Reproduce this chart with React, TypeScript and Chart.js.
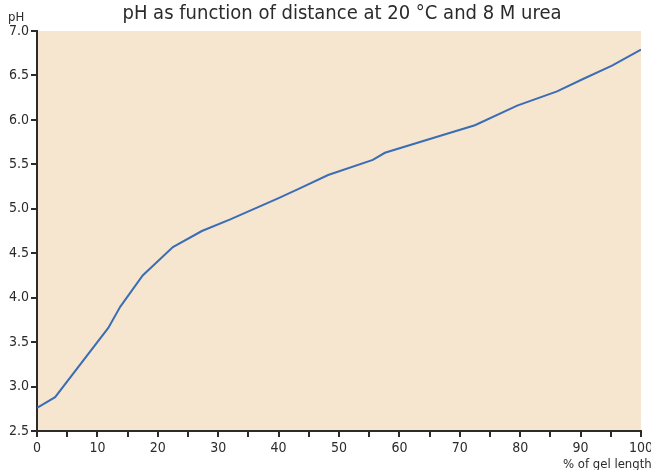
import React, { useEffect, useRef } from "react";
import { Chart, registerables } from "chart.js";

Chart.register(...registerables);

// % of gel length vs measured pH
const distance = [0, 3, 11.8, 13.8, 17.5, 22.5, 27.3, 32, 40, 43.5, 48.2, 55.6, 57.6, 67.2, 72.5, 79.5, 86.1, 90.4, 95.2, 100];
const pH = [2.76, 2.88, 3.66, 3.9, 4.25, 4.57, 4.75, 4.88, 5.12, 5.23, 5.38, 5.55, 5.63, 5.83, 5.94, 6.16, 6.32, 6.46, 6.61, 6.79];

const titleText = "pH as function of distance at 20 °C and 8 M urea";
const yAxisLabel = "pH";
const xAxisLabel = "% of gel length";

const FONT = "'Liberation Sans Narrow', 'DejaVu Sans Condensed', 'Liberation Sans', sans-serif";
const INK = "#2b2b2b";

const decorations = {
  id: "decorations",
  beforeDraw(chart: any) {
    const { ctx, chartArea } = chart;
    ctx.save();
    ctx.fillStyle = "#f6e6cf";
    ctx.fillRect(chartArea.left, chartArea.top, chartArea.right - chartArea.left, chartArea.bottom - chartArea.top);
    ctx.restore();
  },
  afterDraw(chart: any) {
    const { ctx, chartArea } = chart;
    ctx.save();
    ctx.fillStyle = INK;
    ctx.textBaseline = "alphabetic";
    ctx.font = `20px ${FONT}`;
    ctx.textAlign = "center";
    ctx.fillText(titleText, 342, 19);
    ctx.font = `13px ${FONT}`;
    ctx.textAlign = "left";
    ctx.fillText(yAxisLabel, 8, 21);
    ctx.textAlign = "left";
    ctx.fillText(xAxisLabel, 563, 468);
    ctx.restore();
  },
};

export default function App() {
  const ref = useRef<HTMLCanvasElement>(null);

  useEffect(() => {
    document.body.style.margin = "0";
    const chart = new Chart(ref.current!, {
      type: "line",
      data: {
        datasets: [
          {
            data: distance.map((d, i) => ({ x: d, y: pH[i] })),
            borderColor: "#3b6db5",
            borderWidth: 2,
            pointRadius: 0,
            tension: 0,
            fill: false,
          },
        ],
      },
      options: {
        animation: false,
        responsive: false,
        layout: { padding: { top: 31, right: 10, left: 0, bottom: 0 } },
        plugins: { legend: { display: false }, tooltip: { enabled: false }, title: { display: false } },
        scales: {
          x: {
            type: "linear",
            min: 0,
            max: 100,
            afterFit: (s: any) => {
              s.height = 39;
              s.paddingLeft = 0;
              s.paddingRight = 0;
            },
            ticks: {
              stepSize: 5,
              autoSkip: false,
              maxRotation: 0,
              color: INK,
              padding: 3,
              font: { family: FONT, size: 14 },
              callback: (v: any) => (Number(v) % 10 === 0 ? String(v) : ""),
            },
            grid: { drawOnChartArea: false, drawTicks: true, tickLength: 6, color: INK, lineWidth: 2 },
            border: { color: INK, width: 2 },
          },
          y: {
            min: 2.5,
            max: 7.0,
            afterFit: (s: any) => {
              s.width = 37;
              s.paddingTop = 0;
              s.paddingBottom = 0;
            },
            ticks: {
              stepSize: 0.5,
              color: INK,
              padding: 2,
              font: { family: FONT, size: 14 },
              callback: (v: any) => Number(v).toFixed(1),
            },
            grid: { drawOnChartArea: false, drawTicks: true, tickLength: 6, color: INK, lineWidth: 2 },
            border: { color: INK, width: 2 },
          },
        },
      },
      plugins: [decorations],
    });
    return () => chart.destroy();
  }, []);

  return (
    <div style={{ position: "absolute", left: 0, top: 0, width: 651, height: 470 }}>
      <canvas ref={ref} width={651} height={470} style={{ width: 651, height: 470 }} />
    </div>
  );
}
